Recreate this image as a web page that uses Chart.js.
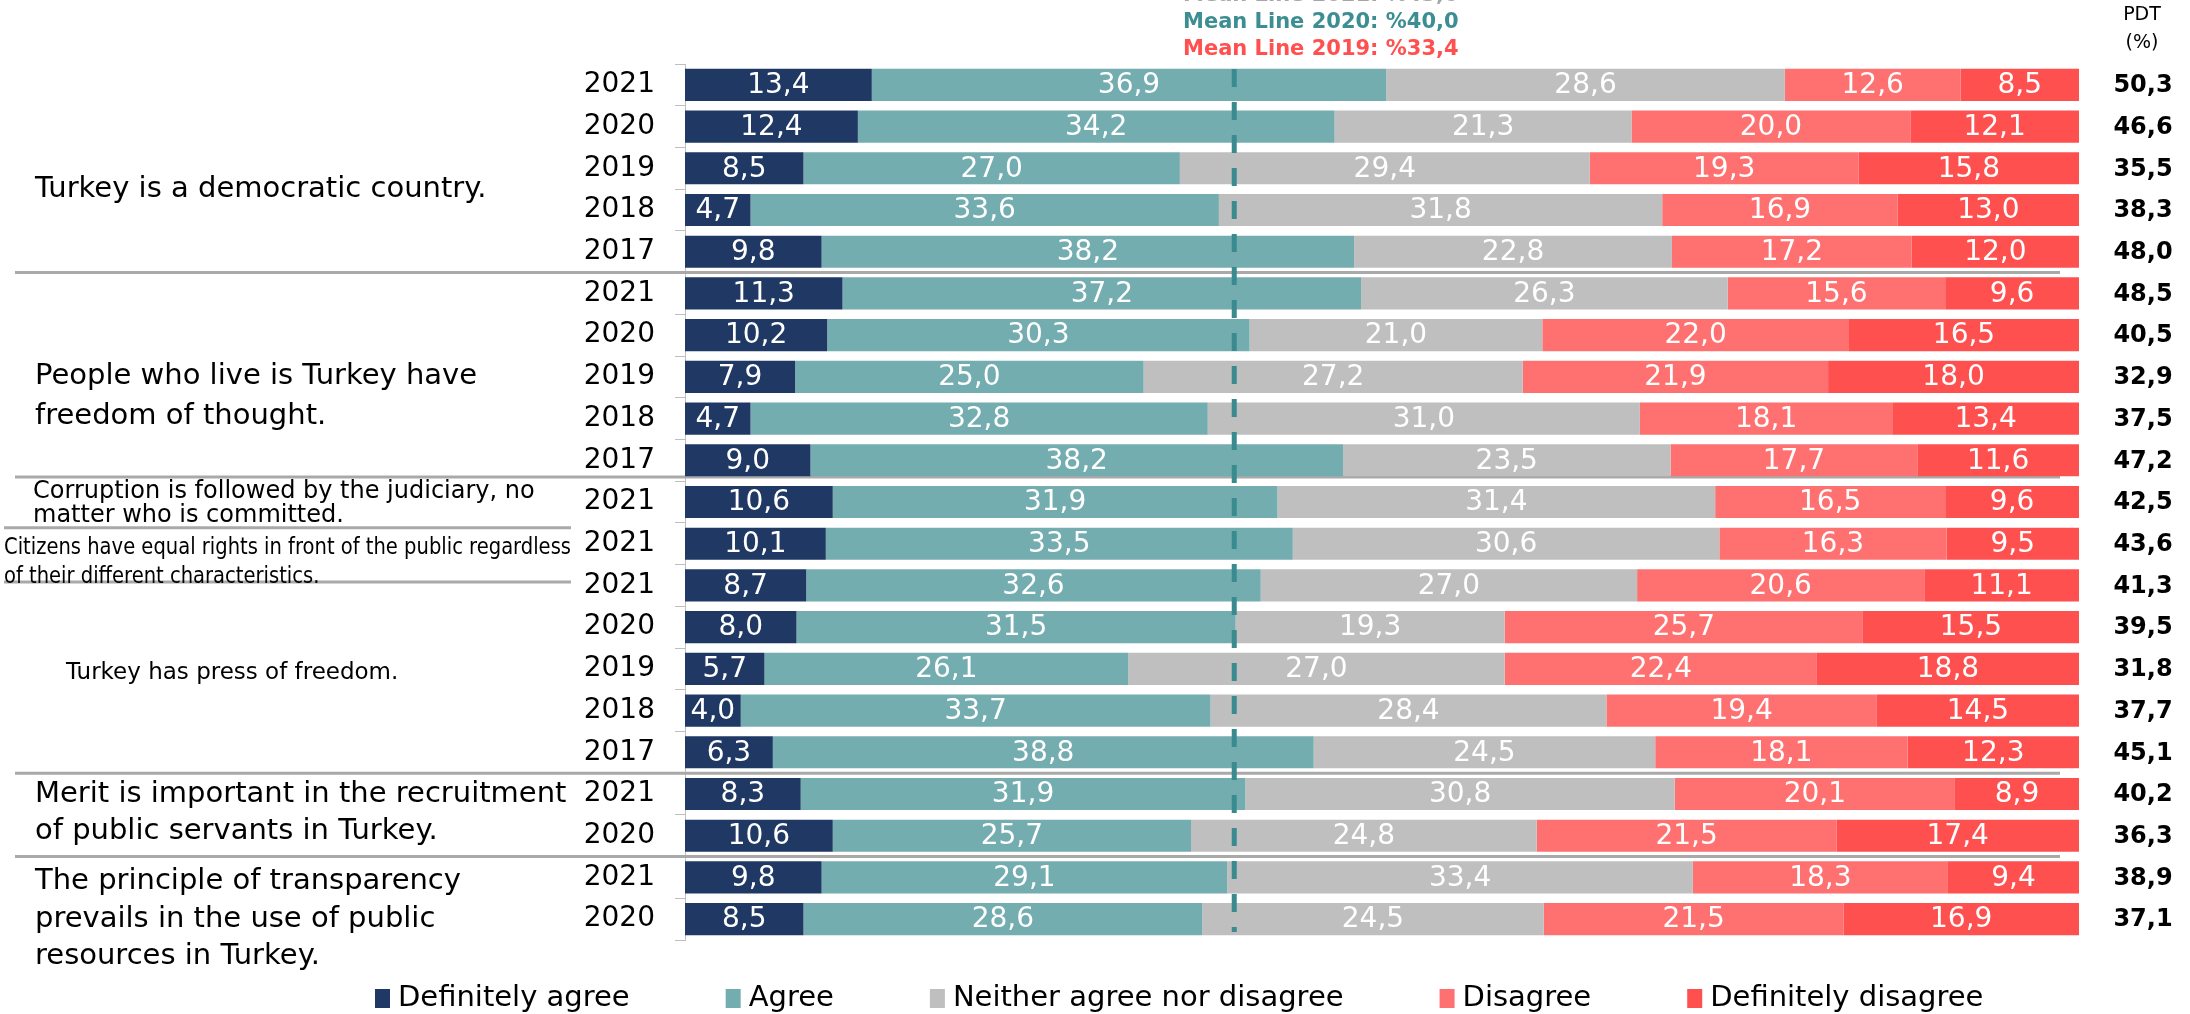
<!DOCTYPE html>
<html>
<head>
<meta charset="utf-8">
<script src="https://cdn.jsdelivr.net/npm/chart.js@4.4.1/dist/chart.umd.min.js"></script>
<style>
  html, body { margin: 0; padding: 0; background: #fff; }
  #wrap { width: 2190px; height: 1014px; position: relative; }
</style>
</head>
<body>
<div id="wrap"><canvas id="likert"></canvas></div>
<script>
// one entry per bar, top to bottom
const years = ['2021', '2020', '2019', '2018', '2017',
               '2021', '2020', '2019', '2018', '2017',
               '2021',
               '2021',
               '2021', '2020', '2019', '2018', '2017',
               '2021', '2020',
               '2021', '2020'];
const definitelyAgree    = [13.4, 12.4, 8.5, 4.7, 9.8,  11.3, 10.2, 7.9, 4.7, 9.0,  10.6,  10.1,  8.7, 8.0, 5.7, 4.0, 6.3,  8.3, 10.6,  9.8, 8.5];
const agree              = [36.9, 34.2, 27.0, 33.6, 38.2,  37.2, 30.3, 25.0, 32.8, 38.2,  31.9,  33.5,  32.6, 31.5, 26.1, 33.7, 38.8,  31.9, 25.7,  29.1, 28.6];
const neither            = [28.6, 21.3, 29.4, 31.8, 22.8,  26.3, 21.0, 27.2, 31.0, 23.5,  31.4,  30.6,  27.0, 19.3, 27.0, 28.4, 24.5,  30.8, 24.8,  33.4, 24.5];
const disagree           = [12.6, 20.0, 19.3, 16.9, 17.2,  15.6, 22.0, 21.9, 18.1, 17.7,  16.5,  16.3,  20.6, 25.7, 22.4, 19.4, 18.1,  20.1, 21.5,  18.3, 21.5];
const definitelyDisagree = [8.5, 12.1, 15.8, 13.0, 12.0,  9.6, 16.5, 18.0, 13.4, 11.6,  9.6,  9.5,  11.1, 15.5, 18.8, 14.5, 12.3,  8.9, 17.4,  9.4, 16.9];
const pdt                = [50.3, 46.6, 35.5, 38.3, 48.0,  48.5, 40.5, 32.9, 37.5, 47.2,  42.5,  43.6,  41.3, 39.5, 31.8, 37.7, 45.1,  40.2, 36.3,  38.9, 37.1];

const seriesNames  = ['Definitely agree', 'Agree', 'Neither agree nor disagree', 'Disagree', 'Definitely disagree'];
const seriesColors = ['#203864', '#74adb0', '#bfbfbf', '#ff7171', '#ff5050'];

// dashed reference line, and the notes above the chart
const meanLineAt = 39.4;
const meanNotes  = ['Mean Line 2021: %43,0', 'Mean Line 2020: %40,0', 'Mean Line 2019: %33,4'];
const meanColors = ['#a6a6a6', '#3d8e92', '#ff4f4f'];

// statement text on the left, each line pinned to a (fractional) row
const statements = [
  { lines: ['Turkey is a democratic country.'], rows: [2.5], x: 35, size: 29 },
  { lines: ['People who live is Turkey have', 'freedom of thought.'], rows: [7.0, 7.95], x: 35, size: 29 },
  { lines: ['Corruption is followed by the judiciary, no', 'matter who is committed.'], rows: [9.75, 10.32], x: 33, size: 24 },
  { lines: ['Citizens have equal rights in front of the public regardless', 'of their different characteristics.'], rows: [11.1, 11.8], x: 4, size: 23, fit: 567 },
  { lines: ['Turkey has press of freedom.'], rows: [14.1], x: 66, size: 23 },
  { lines: ['Merit is important in the recruitment', 'of public servants in Turkey.'], rows: [17.0, 17.9], x: 35, size: 29 },
  { lines: ['The principle of transparency', 'prevails in the use of public', 'resources in Turkey.'], rows: [19.1, 20.0, 20.9], x: 35, size: 29 }
];
const separators = [
  { row: 4.5, full: true }, { row: 9.4, full: true },
  { row: 10.62, full: false }, { row: 11.92, full: false },
  { row: 16.5, full: true }, { row: 18.5, full: true }
];

const FONT = '"DejaVu Sans", Verdana, sans-serif';
const fmt = v => v.toFixed(1).replace('.', ',');

const sideText = {
  id: 'sideText',
  beforeDatasetsDraw(chart) {
    const ctx = chart.ctx, y = chart.scales.y;
    ctx.save();
    ctx.strokeStyle = '#a9a9a9';
    ctx.lineWidth = 3;
    separators.forEach(s => {
      const py = y.getPixelForValue(s.row);
      ctx.beginPath();
      ctx.moveTo(s.full ? 15 : 4, py);
      ctx.lineTo(s.full ? 2060 : 571, py);
      ctx.stroke();
    });
    ctx.fillStyle = '#000';
    ctx.textAlign = 'left';
    ctx.textBaseline = 'middle';
    statements.forEach(st => {
      ctx.font = st.size + 'px ' + FONT;
      let squeeze = 1;
      if (st.fit) squeeze = Math.min(1, st.fit / ctx.measureText(st.lines[0]).width);
      st.lines.forEach((line, i) => {
        ctx.save();
        ctx.translate(st.x, y.getPixelForValue(st.rows[i]));
        ctx.scale(squeeze, 1);
        ctx.fillText(line, 0, 0);
        ctx.restore();
      });
    });
    ctx.restore();
  },
  afterDatasetsDraw(chart) {
    const ctx = chart.ctx, x = chart.scales.x, y = chart.scales.y, area = chart.chartArea;
    ctx.save();
    // dashed mean line
    const mx = x.getPixelForValue(meanLineAt);
    ctx.strokeStyle = '#3a8b8f';
    ctx.lineWidth = 5;
    ctx.setLineDash([18, 15]);
    ctx.beginPath();
    ctx.moveTo(mx, area.top + 5);
    ctx.lineTo(mx, area.bottom - 8);
    ctx.stroke();
    ctx.setLineDash([]);

    // values inside the segments
    ctx.font = '28px ' + FONT;
    ctx.fillStyle = '#fff';
    ctx.textAlign = 'center';
    ctx.textBaseline = 'middle';
    chart.data.datasets.forEach((ds, i) => {
      chart.getDatasetMeta(i).data.forEach((bar, j) => {
        const p = bar.getProps(['x', 'y', 'base'], true);
        ctx.fillText(fmt(ds.data[j]), (p.x + p.base) / 2, p.y + 1);
      });
    });

    // PDT column
    ctx.fillStyle = '#000';
    ctx.font = '19px ' + FONT;
    ctx.fillText('PDT', 2142, 15);
    ctx.fillText('(%)', 2142, 43);
    ctx.font = 'bold 24px ' + FONT;
    pdt.forEach((v, j) => ctx.fillText(fmt(v), 2143, y.getPixelForValue(j) + 1));

    // mean notes at the top
    ctx.textAlign = 'left';
    ctx.font = 'bold 21px ' + FONT;
    meanNotes.forEach((t, i) => {
      ctx.fillStyle = meanColors[i];
      ctx.fillText(t, 1183, 50 - 27 * (meanNotes.length - 1 - i));
    });
    ctx.restore();
  }
};

const bottomLegend = {
  id: 'bottomLegend',
  afterDraw(chart) {
    const ctx = chart.ctx;
    ctx.save();
    ctx.font = '29px ' + FONT;
    ctx.textAlign = 'left';
    ctx.textBaseline = 'middle';
    let px = 375;
    const py = 998;
    chart.data.datasets.forEach(ds => {
      ctx.fillStyle = ds.backgroundColor;
      ctx.fillRect(px, py - 9, 15, 19);
      ctx.fillStyle = '#000';
      ctx.fillText(ds.label, px + 23, py);
      px += 23 + ctx.measureText(ds.label).width + 96;
    });
    ctx.restore();
  }
};

const seriesData = [definitelyAgree, agree, neither, disagree, definitelyDisagree];

new Chart(document.getElementById('likert'), {
  type: 'bar',
  data: {
    labels: years,
    datasets: seriesData.map((d, i) => ({
      label: seriesNames[i],
      data: d,
      backgroundColor: seriesColors[i],
      borderWidth: 0,
      categoryPercentage: 1,
      barPercentage: 0.77
    }))
  },
  options: {
    indexAxis: 'y',
    responsive: true,
    maintainAspectRatio: false,
    animation: false,
    layout: { padding: { left: 0, right: 111, top: 64, bottom: 74 } },
    plugins: {
      legend: { display: false },
      tooltip: { enabled: false }
    },
    scales: {
      x: { stacked: true, display: false, min: 0, max: 100 },
      y: {
        stacked: true,
        afterFit: s => { s.width = 685; },
        grid: { drawOnChartArea: false, drawTicks: true, tickLength: 10, color: '#bfbfbf', offset: true },
        border: { display: true, color: '#bfbfbf', width: 1 },
        ticks: { color: '#000', padding: 20, font: { family: 'DejaVu Sans', size: 28 } }
      }
    }
  },
  plugins: [sideText, bottomLegend]
});
</script>
</body>
</html>
